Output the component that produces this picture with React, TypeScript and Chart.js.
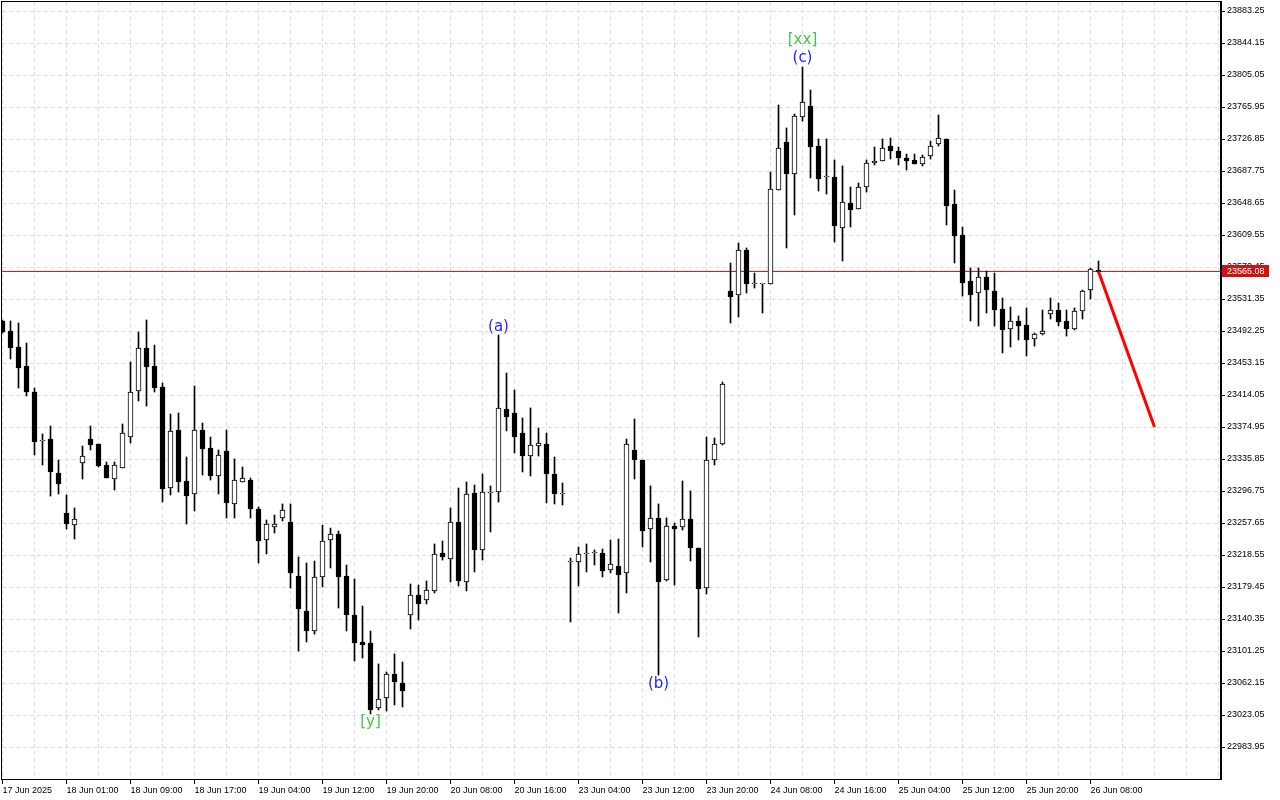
import React, { useEffect, useRef } from 'react';
import { Chart, registerables } from 'chart.js';

Chart.register(...registerables);

// ---- Data (hourly bars) ----
const open = [
  23504.5, 23492.3, 23472.7, 23449.5, 23417.7, 23357.8, 23360.3, 23318.7, 23269.9, 23255.2,
  23331.0, 23360.3, 23354.2, 23328.5, 23311.4, 23324.9, 23362.7, 23418.9, 23471.5, 23449.5,
  23423.8, 23300.4, 23371.3, 23309.0, 23293.1, 23371.3, 23349.3, 23315.1, 23345.6, 23280.9,
  23307.8, 23310.2, 23274.8, 23236.9, 23252.8, 23263.8, 23258.9, 23192.9, 23150.1, 23125.7,
  23191.7, 23236.9, 23244.2, 23192.9, 23145.2, 23112.3, 23111.0, 23031.6, 23043.8, 23073.1,
  23062.2, 23145.2, 23169.7, 23163.6, 23174.6, 23221.0, 23213.7, 23258.9, 23185.6, 23294.3,
  23224.7, 23294.3, 23295.5, 23396.9, 23392.1, 23367.6, 23339.5, 23351.7, 23354.2, 23317.5,
  23293.1, 23210.0, 23210.0, 23219.8, 23221.0, 23221.0, 23200.2, 23205.1, 23196.6, 23346.9,
  23334.6, 23250.3, 23263.8, 23188.0, 23254.0, 23252.8, 23262.5, 23227.1, 23178.2, 23334.6,
  23354.2, 23541.1, 23536.2, 23591.2, 23549.7, 23549.7, 23549.7, 23664.5, 23723.2, 23684.1,
  23753.7, 23767.2, 23718.3, 23680.4, 23680.4, 23618.1, 23648.6, 23641.3, 23668.2, 23697.5,
  23700.0, 23718.3, 23712.2, 23703.6, 23701.2, 23696.3, 23706.1, 23720.7, 23726.9, 23647.4,
  23609.5, 23553.3, 23538.7, 23558.2, 23541.1, 23519.1, 23494.7, 23504.5, 23499.6, 23482.5,
  23488.6, 23513.0, 23517.9, 23504.5, 23494.7, 23516.7, 23542.3, 23565.6,
];
const high = [
  23505.7, 23504.5, 23502.0, 23477.6, 23422.6, 23366.4, 23376.2, 23334.6, 23291.9, 23276.0,
  23351.7, 23376.2, 23354.2, 23332.2, 23332.2, 23378.6, 23454.4, 23491.0, 23505.7, 23475.1,
  23428.7, 23390.8, 23392.1, 23338.3, 23425.0, 23379.8, 23362.7, 23346.9, 23371.3, 23335.9,
  23326.1, 23312.6, 23277.2, 23261.3, 23267.4, 23280.9, 23280.9, 23216.1, 23208.8, 23211.2,
  23255.2, 23251.5, 23247.9, 23206.3, 23189.2, 23156.2, 23125.7, 23085.4, 23075.6, 23097.6,
  23087.8, 23183.1, 23181.9, 23186.8, 23232.0, 23235.7, 23276.0, 23300.4, 23307.8, 23304.1,
  23317.5, 23302.9, 23487.4, 23440.9, 23420.2, 23386.0, 23398.2, 23373.7, 23367.6, 23338.3,
  23306.5, 23214.9, 23228.3, 23232.0, 23224.7, 23225.9, 23236.9, 23238.1, 23360.3, 23384.7,
  23334.6, 23302.9, 23280.9, 23263.8, 23257.7, 23309.0, 23296.8, 23227.1, 23362.7, 23361.5,
  23429.9, 23575.3, 23599.8, 23593.7, 23563.1, 23549.7, 23686.5, 23768.4, 23740.3, 23757.4,
  23814.8, 23786.7, 23726.9, 23726.9, 23701.2, 23693.9, 23668.2, 23673.1, 23701.2, 23717.1,
  23726.9, 23728.1, 23717.1, 23708.5, 23708.5, 23707.3, 23724.4, 23756.2, 23726.9, 23664.5,
  23619.3, 23569.2, 23569.2, 23565.6, 23563.1, 23532.6, 23521.6, 23510.6, 23520.4, 23489.8,
  23517.9, 23532.6, 23526.5, 23517.9, 23520.4, 23542.3, 23569.2, 23577.8,
];
const low = [
  23489.8, 23458.0, 23422.6, 23412.8, 23340.7, 23328.5, 23290.6, 23293.1, 23250.3, 23238.1,
  23311.4, 23346.9, 23326.1, 23312.6, 23298.0, 23324.9, 23355.4, 23406.7, 23400.6, 23417.7,
  23283.3, 23291.9, 23295.5, 23256.4, 23272.3, 23316.3, 23310.2, 23293.1, 23263.8, 23263.8,
  23307.8, 23263.8, 23208.8, 23219.8, 23245.4, 23260.1, 23178.2, 23101.2, 23112.3, 23122.0,
  23179.4, 23202.7, 23153.8, 23125.7, 23089.0, 23092.7, 23024.3, 23029.2, 23027.9, 23035.3,
  23032.8, 23128.1, 23139.1, 23158.7, 23172.1, 23212.4, 23185.6, 23180.7, 23174.6, 23197.8,
  23212.4, 23246.7, 23283.3, 23370.1, 23343.2, 23320.0, 23315.1, 23339.5, 23282.1, 23280.9,
  23279.6, 23136.7, 23180.7, 23197.8, 23206.3, 23191.7, 23196.6, 23147.7, 23172.1, 23311.4,
  23228.3, 23210.0, 23071.9, 23186.8, 23181.9, 23249.1, 23211.2, 23118.4, 23170.9, 23328.5,
  23353.0, 23502.0, 23509.4, 23538.7, 23544.8, 23514.2, 23549.7, 23664.5, 23593.7, 23634.0,
  23748.8, 23679.2, 23663.3, 23659.6, 23601.0, 23577.8, 23619.3, 23641.3, 23662.1, 23695.1,
  23700.0, 23702.4, 23695.1, 23689.0, 23696.3, 23693.9, 23702.4, 23718.3, 23621.8, 23575.3,
  23535.0, 23504.5, 23498.4, 23514.2, 23498.4, 23465.4, 23472.7, 23481.3, 23461.7, 23473.9,
  23487.4, 23506.9, 23498.4, 23486.1, 23493.5, 23506.9, 23531.3, 23563.1,
];
const close = [
  23491.0, 23471.5, 23447.0, 23417.7, 23356.6, 23357.8, 23320.0, 23305.3, 23256.4, 23262.5,
  23339.5, 23353.0, 23327.3, 23312.6, 23328.5, 23367.6, 23417.7, 23471.5, 23448.3, 23422.6,
  23299.2, 23370.1, 23307.8, 23290.6, 23371.3, 23348.1, 23315.1, 23340.7, 23282.1, 23310.2,
  23312.6, 23274.8, 23235.7, 23256.4, 23256.4, 23273.5, 23196.6, 23152.6, 23125.7, 23191.7,
  23235.7, 23244.2, 23191.7, 23145.2, 23111.0, 23108.6, 23029.2, 23042.6, 23073.1, 23063.4,
  23052.4, 23169.7, 23158.7, 23175.8, 23219.8, 23216.1, 23258.9, 23186.8, 23293.1, 23224.7,
  23295.5, 23294.3, 23398.2, 23387.2, 23362.7, 23339.5, 23353.0, 23355.4, 23317.5, 23293.1,
  23293.1, 23210.0, 23219.8, 23219.8, 23221.0, 23199.0, 23207.6, 23194.1, 23354.2, 23334.6,
  23247.9, 23263.8, 23185.6, 23254.0, 23250.3, 23262.5, 23227.1, 23177.0, 23334.6, 23354.2,
  23427.5, 23533.8, 23591.2, 23549.7, 23549.7, 23549.7, 23665.8, 23715.9, 23684.1, 23755.0,
  23772.1, 23717.1, 23678.0, 23680.4, 23620.5, 23649.9, 23640.1, 23668.2, 23697.5, 23700.0,
  23715.9, 23712.2, 23703.6, 23700.0, 23696.3, 23704.9, 23718.3, 23728.1, 23645.0, 23608.3,
  23550.9, 23536.2, 23558.2, 23542.3, 23517.9, 23493.5, 23504.5, 23498.4, 23481.3, 23488.6,
  23492.3, 23517.9, 23503.2, 23494.7, 23516.7, 23541.1, 23568.0, 23565.08,
];

// time axis labels, one every 8 bars
const timeLabels = [
  '17 Jun 2025', '18 Jun 01:00', '18 Jun 09:00', '18 Jun 17:00', '19 Jun 04:00', '19 Jun 12:00',
  '19 Jun 20:00', '20 Jun 08:00', '20 Jun 16:00', '23 Jun 04:00', '23 Jun 12:00', '23 Jun 20:00',
  '24 Jun 08:00', '24 Jun 16:00', '25 Jun 04:00', '25 Jun 12:00', '25 Jun 20:00', '26 Jun 08:00',
];
const priceTicks = [
  22983.95, 23023.05, 23062.15, 23101.25, 23140.35, 23179.45, 23218.55, 23257.65, 23296.75,
  23335.85, 23374.95, 23414.05, 23453.15, 23492.25, 23531.35, 23570.45, 23609.55, 23648.65,
  23687.75, 23726.85, 23765.95, 23805.05, 23844.15, 23883.25,
];

// forecast arrow (bar index, price)
const forecastX = [137, 144];
const forecastY = [23565.08, 23374.95];

// wave labels
const waveBars = [62, 82, 100, 100, 46];
const waveTexts = ['(a)', '(b)', '(c)', '[xx]', '[y]'];
const waveAnchors = ['high', 'low', 'high', 'high', 'low'];

// ---- layout / style constants ----
const LABEL_STEP = 8;
const GRID_STEP = 4;
const X_MIN = -0.0625;
const X_MAX = 152.3125;
const Y_MIN = 22944.85;
const Y_MAX = 23894.25;
const FONT = 'Liberation Sans, Arial, sans-serif';
const GRID_COLOR = '#dedede';
const waveOffsets = [-8, 9, -9, -27, 8];
const waveColors = ['#1f1fff', '#1f1fff', '#1f1fff', '#44c844', '#44c844'];

export default function App() {
  const ref = useRef<HTMLCanvasElement | null>(null);

  useEffect(() => {
    document.body.style.margin = '0';
    const canvas = ref.current;
    if (!canvas) return;
    const n = close.length;
    const idx = close.map((_, i) => i);
    const lastClose = close[n - 1];
    const gridTicks: number[] = [];
    for (let v = 0; v <= X_MAX; v += GRID_STEP) gridTicks.push(v);

    const deco = {
      id: 'deco',
      beforeDraw(chart: any) {
        const { ctx } = chart;
        ctx.save();
        ctx.fillStyle = '#ffffff';
        ctx.fillRect(0, 0, chart.width, chart.height);
        ctx.restore();
      },
      afterDatasetsDraw(chart: any) {
        const { ctx } = chart;
        const xs = chart.scales.x;
        const ys = chart.scales.y;
        ctx.save();
        ctx.font = '15px "DejaVu Sans", sans-serif';
        ctx.textAlign = 'center';
        ctx.textBaseline = 'middle';
        waveBars.forEach((b, k) => {
          const price = waveAnchors[k] === 'high' ? high[b] : low[b];
          const x = xs.getPixelForValue(b);
          const y = ys.getPixelForValue(price) + waveOffsets[k];
          ctx.fillStyle = waveColors[k];
          ctx.fillText(waveTexts[k], x, y);
        });
        ctx.restore();
      },
      afterDraw(chart: any) {
        const { ctx, chartArea } = chart;
        const ys = chart.scales.y;
        ctx.save();
        ctx.strokeStyle = '#000';
        ctx.lineWidth = 1;
        ctx.strokeRect(chartArea.left - 0.5, chartArea.top - 0.5,
          chartArea.right - chartArea.left + 1, chartArea.bottom - chartArea.top + 1);
        const py = Math.round(ys.getPixelForValue(lastClose));
        ctx.fillStyle = '#cc1414';
        ctx.fillRect(chartArea.right + 1, py - 6, 47, 12);
        ctx.fillStyle = '#ffffff';
        ctx.font = '9px ' + FONT;
        ctx.textAlign = 'left';
        ctx.textBaseline = 'middle';
        ctx.fillText(lastClose.toFixed(2), chartArea.right + 6, py + 0.5);
        ctx.restore();
      },
    };

    const chart = new Chart(canvas, {
      type: 'bar',
      data: {
        datasets: [
          {
            type: 'line',
            data: [{ x: X_MIN, y: lastClose }, { x: X_MAX, y: lastClose }],
            borderColor: '#a01414',
            borderWidth: 1,
            pointRadius: 0,
            order: 3,
          } as any,
          {
            type: 'bar',
            data: idx.map((i) => ({ x: i, y: [low[i], high[i]] })),
            backgroundColor: '#000000',
            borderWidth: 0,
            barThickness: 1,
            grouped: false,
            order: 2,
          } as any,
          {
            type: 'bar',
            data: idx.map((i) => ({ x: i, y: [open[i], close[i]] })),
            backgroundColor: idx.map((i) => (close[i] >= open[i] ? '#ffffff' : '#000000')),
            borderColor: '#000000',
            borderWidth: 1,
            borderSkipped: false,
            barThickness: 5,
            minBarLength: 1,
            grouped: false,
            order: 1,
          } as any,
          {
            type: 'line',
            data: forecastX.map((x, i) => ({ x, y: forecastY[i] })),
            borderColor: '#ff0000',
            borderWidth: 3,
            pointRadius: 0,
            order: 0,
          } as any,
        ],
      },
      options: {
        animation: false,
        responsive: false,
        devicePixelRatio: 1,
        layout: { padding: { left: 2, top: 2, right: 0, bottom: 0 } },
        plugins: { legend: { display: false }, tooltip: { enabled: false } },
        scales: {
          x: {
            type: 'linear',
            min: X_MIN,
            max: X_MAX,
            offset: false,
            bounds: 'data',
            grid: {
              offset: false,
              color: GRID_COLOR,
              lineWidth: 1,
              drawTicks: true,
              tickLength: 5,
              tickWidth: 1,
              tickBorderDash: [],
              tickColor: (c: any) =>
                c.tick && c.tick.value % LABEL_STEP === 0 && c.tick.value / LABEL_STEP < timeLabels.length
                  ? '#000000'
                  : 'rgba(0,0,0,0)',
            },
            border: { display: true, color: '#000000', width: 1, dash: [4, 3] },
            ticks: {
              autoSkip: false,
              maxRotation: 0,
              minRotation: 0,
              align: 'start',
              padding: 1,
              color: '#000000',
              font: { family: FONT, size: 9 },
              callback: (v: any) => {
                const k = Number(v);
                if (k % LABEL_STEP !== 0) return '';
                return timeLabels[k / LABEL_STEP] || '';
              },
            },
            afterBuildTicks: (s: any) => {
              s.ticks = gridTicks.map((v) => ({ value: v }));
            },
            afterFit: (s: any) => {
              s.height = 21;
              s.paddingLeft = 0;
              s.paddingRight = 0;
            },
          } as any,
          y: {
            type: 'linear',
            position: 'right',
            min: Y_MIN,
            max: Y_MAX,
            bounds: 'data',
            beginAtZero: false,
            grid: {
              color: GRID_COLOR,
              lineWidth: 1,
              drawTicks: true,
              tickLength: 4,
              tickWidth: 1,
              tickColor: '#000000',
              tickBorderDash: [],
            },
            border: { display: true, color: '#000000', width: 2, dash: [4, 3] },
            ticks: {
              autoSkip: false,
              padding: 2,
              color: '#000000',
              font: { family: FONT, size: 9 },
              callback: (v: any) => Number(v).toFixed(2),
            },
            afterBuildTicks: (s: any) => {
              s.ticks = priceTicks.map((v) => ({ value: v }));
            },
            afterFit: (s: any) => {
              s.width = 59;
              s.paddingTop = 0;
              s.paddingBottom = 0;
            },
          } as any,
        },
      } as any,
      plugins: [deco],
    });

    return () => chart.destroy();
  }, []);

  return (
    <div style={{ width: 1280, height: 800 }}>
      <canvas ref={ref} width={1280} height={800} style={{ display: 'block', width: 1280, height: 800 }} />
    </div>
  );
}
